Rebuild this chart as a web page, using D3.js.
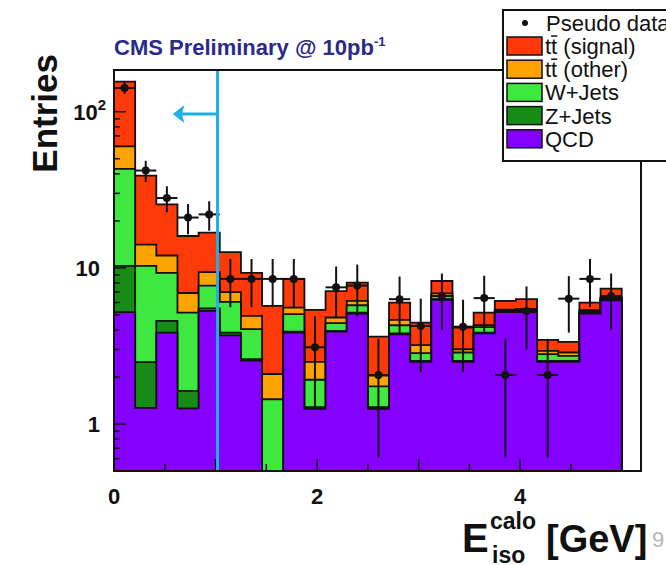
<!DOCTYPE html>
<html lang="en">
<head>
  <meta charset="UTF-8" />
  <title>E_iso calo</title>
  <script src="https://d3js.org/d3.v7.min.js"></script>
  <style>
    body { margin: 0; background: #fff; }
    svg { display: block; font-family: "Liberation Sans", Arial, sans-serif; }
    .tick-label { font-weight: bold; font-size: 22px; fill: #111; }
    .legend text { font-size: 22px; fill: #111; }
  </style>
</head>
<body>
  <svg width="666" height="565"></svg>

  <script>
    // 24 bins between 0 and 5 GeV
    const nBins = 24;
    const xMax = 5;

    // stacked components (per-bin contents, bottom to top)
    const qcd      = [5.2, 1.27, 3.85, 1.26, 5.3, 3.7, 2.55, 0, 3.85, 1.25, 3.9, 5.1, 1.25, 3.75, 2.5, 6.25, 2.5, 3.8, 5.2, 5.2, 2.5, 2.5, 5.1, 6.2];
    const zJets    = [5.1, 1.22, 0.72, 0.37, 0.2, 0.15, 0.05, 0, 0.05, 0.03, 0.05, 0.07, 0.03, 0.05, 0.04, 0.05, 0.04, 0.05, 0.05, 0.07, 0.04, 0.04, 0.07, 0.1];
    const wJets    = [32.7, 7.81, 4.73, 3.54, 2.2, 2.2, 1.45, 1.44, 1.15, 0.64, 0.47, 0.59, 0.46, 0.49, 0.3, 0.3, 0.33, 0.32, 0.05, 0.08, 0.26, 0.19, 0.08, 0.1];
    const ttOther  = [17, 3.8, 2.7, 1.73, 1.7, 0.95, 0.87, 0.65, 0.52, 0.58, 0.39, 0.38, 0.3, 0.35, 0.36, 0.27, 0.14, 0.12, 0.1, 0.1, 0.14, 0.14, 0.1, 0.1];
    const ttSignal = [96, 24.9, 13.5, 9.1, 7.4, 5.6, 4.38, 3.61, 2.93, 2.88, 2.29, 1.9, 1.59, 1.35, 1.26, 1.37, 1.14, 0.88, 0.74, 0.85, 0.52, 0.49, 0.64, 0.86];

    // pseudo data and its error bars
    const pseudoData = [142, 42, 28, 21, 22, 8.5, 8.5, 8.5, 8.5, 3.1, 7.5, 7.7, 2.06, 6.3, 4.25, 6.6, 4.2, 6.4, 2.06, 5.3, 2.06, 6.35, 8.5, 6.6];
    const dataErr    = [12, 6.5, 5.3, 4.6, 4.7, 2.9, 2.9, 2.9, 2.9, 1.8, 2.7, 2.8, 1.45, 2.5, 2.1, 2.6, 2.05, 2.5, 1.45, 2.3, 1.45, 2.5, 2.9, 2.6];

    const keys = ["qcd", "zJets", "wJets", "ttOther", "ttSignal"];
    const colors = {
      qcd: "#8400ff",
      zJets: "#168c16",
      wJets: "#3ee83e",
      ttOther: "#ffa300",
      ttSignal: "#ff3a08"
    };
    const legendItems = [
      { key: "ttSignal", label: "(signal)" },
      { key: "ttOther", label: "(other)" },
      { key: "wJets", label: "W+Jets" },
      { key: "zJets", label: "Z+Jets" },
      { key: "qcd", label: "QCD" }
    ];
    const xTickLabels = [0, 2, 4];
    const yTickLabels = [1, 10, 100];
    const cutValue = 1.0;

    const svg = d3.select("svg");
    const frame = { left: 114, right: 641, top: 70, bottom: 471 };

    const x = d3.scaleLinear().domain([0, 5.19]).range([frame.left, frame.right]);
    const y = d3.scaleLog().domain([0.5, 185]).range([frame.bottom, frame.top]).clamp(true);
    const yv = v => y(Math.max(v, 1e-3));

    const binW = xMax / nBins;
    const edges = d3.range(nBins + 1).map(i => i * binW);

    const rows = d3.range(nBins).map(i => ({
      qcd: qcd[i], zJets: zJets[i], wJets: wJets[i], ttOther: ttOther[i], ttSignal: ttSignal[i]
    }));
    const series = d3.stack().keys(keys)(rows);

    const area = d3.area()
      .curve(d3.curveStepAfter)
      .x(d => d[0])
      .y0(frame.bottom)
      .y1(d => d[1]);

    // draw the cumulative histograms, largest first
    const gHist = svg.append("g");
    series.slice().reverse().forEach(s => {
      const pts = s.map((d, i) => [x(edges[i]), yv(d[1])]);
      pts.push([x(edges[nBins]), yv(s[nBins - 1][1])]);
      gHist.append("path")
        .attr("d", area(pts))
        .attr("fill", colors[s.key])
        .attr("stroke", "#111")
        .attr("stroke-width", 1.8);
    });

    // axis ticks (inside the frame)
    const gTicks = svg.append("g").attr("stroke", "#111").attr("stroke-width", 1.5);
    d3.range(0, 5.01, 0.5).forEach(v => {
      const len = Number.isInteger(v) ? 12 : 7;
      gTicks.append("line")
        .attr("x1", x(v)).attr("x2", x(v))
        .attr("y1", frame.bottom).attr("y2", frame.bottom - len);
    });
    [1, 10, 100].forEach(dec => {
      d3.range(1, 10).forEach(m => {
        const v = dec * m;
        if (v < 0.5 || v > 185) return;
        const len = m === 1 ? 12 : 6;
        gTicks.append("line")
          .attr("x1", frame.left).attr("x2", frame.left + len)
          .attr("y1", y(v)).attr("y2", y(v));
      });
    });
    [0.5, 0.6, 0.7, 0.8, 0.9].forEach(v => {
      gTicks.append("line")
        .attr("x1", frame.left).attr("x2", frame.left + 6)
        .attr("y1", y(v)).attr("y2", y(v));
    });

    // pseudo data
    const gData = svg.append("g");
    pseudoData.forEach((v, i) => {
      const cx = x(edges[i] + binW / 2);
      gData.append("line")
        .attr("x1", cx).attr("x2", cx)
        .attr("y1", yv(v - dataErr[i])).attr("y2", yv(v + dataErr[i]))
        .attr("stroke", "#111").attr("stroke-width", 2);
      gData.append("line")
        .attr("x1", x(edges[i])).attr("x2", x(edges[i + 1]))
        .attr("y1", yv(v)).attr("y2", yv(v))
        .attr("stroke", "#111").attr("stroke-width", 2);
      gData.append("circle")
        .attr("cx", cx).attr("cy", yv(v)).attr("r", 4)
        .attr("fill", "#111");
    });

    // cut line and arrow
    const cutX = x(cutValue) + 2;
    const cutColor = "#1eb0e8";
    svg.append("line")
      .attr("x1", cutX).attr("x2", cutX)
      .attr("y1", frame.top).attr("y2", frame.bottom)
      .attr("stroke", cutColor).attr("stroke-width", 3);
    const arrowY = 114;
    svg.append("line")
      .attr("x1", cutX).attr("x2", x(0.63))
      .attr("y1", arrowY).attr("y2", arrowY)
      .attr("stroke", cutColor).attr("stroke-width", 3);
    svg.append("path")
      .attr("d", `M${x(0.59)},${arrowY} L${x(0.68)},${arrowY - 7} L${x(0.66)},${arrowY} L${x(0.68)},${arrowY + 7} Z`)
      .attr("fill", cutColor).attr("stroke", cutColor).attr("stroke-width", 1.5);

    // frame
    svg.append("rect")
      .attr("x", frame.left).attr("y", frame.top)
      .attr("width", frame.right - frame.left).attr("height", frame.bottom - frame.top)
      .attr("fill", "none").attr("stroke", "#111").attr("stroke-width", 2);

    // tick labels
    xTickLabels.forEach(v => {
      svg.append("text").attr("class", "tick-label")
        .attr("x", x(v)).attr("y", 504)
        .attr("text-anchor", "middle")
        .text(v);
    });
    yTickLabels.forEach(v => {
      const t = svg.append("text").attr("class", "tick-label")
        .attr("x", v === 100 ? 106 : 100).attr("y", y(v) + 8)
        .attr("text-anchor", "end");
      if (v === 100) {
        t.append("tspan").text("10");
        t.append("tspan").attr("dy", -10).attr("font-size", 15).text("2");
      } else {
        t.text(v);
      }
    });

    // y title
    svg.append("text")
      .attr("transform", "translate(57,54) rotate(-90)")
      .attr("text-anchor", "end")
      .attr("font-weight", "bold").attr("font-size", 35).attr("fill", "#111")
      .text("Entries");

    // x title
    const xt = svg.append("g").attr("fill", "#111").attr("font-weight", "bold");
    xt.append("text").attr("x", 462).attr("y", 552).attr("font-size", 40).text("E");
    xt.append("text").attr("x", 490).attr("y", 529).attr("font-size", 23).text("calo");
    xt.append("text").attr("x", 492).attr("y", 563).attr("font-size", 23).text("iso");
    xt.append("text").attr("x", 546).attr("y", 552).attr("font-size", 38).text("[GeV]");
    svg.append("text").attr("x", 652).attr("y", 547).attr("font-size", 22)
      .attr("fill", "#b5b5b5").text("9");

    // title
    const title = svg.append("text")
      .attr("x", 114).attr("y", 55)
      .attr("font-weight", "bold").attr("font-size", 22).attr("fill", "#2a2a88");
    title.append("tspan").text("CMS Preliminary @ 10pb");
    title.append("tspan").attr("dy", -9).attr("font-size", 13).text("-1");

    // legend
    const lg = svg.append("g").attr("class", "legend");
    lg.append("rect")
      .attr("x", 503).attr("y", 10).attr("width", 200).attr("height", 151)
      .attr("fill", "#fff").attr("stroke", "#111").attr("stroke-width", 2);
    lg.append("circle").attr("cx", 525).attr("cy", 23).attr("r", 3).attr("fill", "#111");
    lg.append("text").attr("x", 546).attr("y", 31).text("Pseudo data");
    legendItems.forEach((it, i) => {
      const cy = 46 + i * 23.2;
      lg.append("rect")
        .attr("x", 507).attr("y", cy - 9).attr("width", 35).attr("height", 18)
        .attr("fill", colors[it.key]).attr("stroke", "#111").attr("stroke-width", 1.5);
      const isTT = it.key.startsWith("tt");
      const t = lg.append("text").attr("x", 545).attr("y", cy + 8)
        .text(isTT ? "tt " + it.label : it.label);
      if (isTT) {
        // bar over the second t
        const n = t.node();
        const a = n.getStartPositionOfChar(1).x;
        const b = n.getEndPositionOfChar(1).x;
        lg.append("line")
          .attr("x1", a).attr("x2", b)
          .attr("y1", cy - 10).attr("y2", cy - 10)
          .attr("stroke", "#111").attr("stroke-width", 1.5);
      }
    });
  </script>
</body>
</html>
